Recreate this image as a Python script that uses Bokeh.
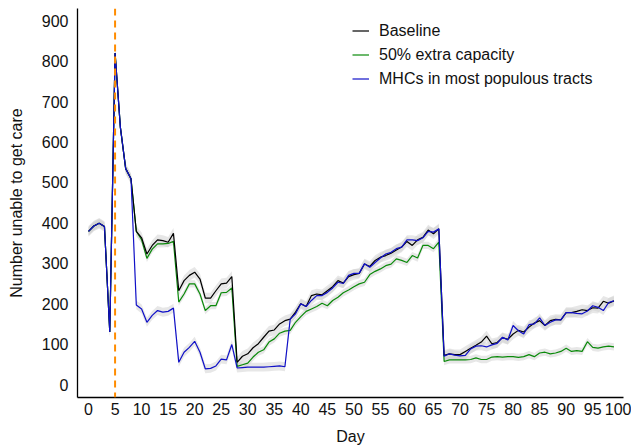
import numpy as np
from bokeh.plotting import figure
from bokeh.models import Span, FixedTicker, Range1d, Legend, LegendItem
from bokeh.embed import file_html
from bokeh.resources import INLINE

days = list(range(0, 100))

baseline = [379, 392, 399, 391, 130, 820, 636, 534, 509,
            379, 363, 323, 344, 358, 356, 352, 374,
            232, 257, 270, 278, 261, 214, 214, 232, 249, 251, 267,
            55, 70, 76, 91, 101, 117, 132, 135, 150, 158, 162, 179, 200, 193,
            220, 224, 222, 232, 242, 257, 251, 267, 272, 275, 298, 292, 307, 315, 319,
            325, 333, 340, 354, 344, 358, 364, 382, 373, 385,
            72, 76, 74, 74, 82, 90, 97, 105, 120, 101, 104, 116, 112, 125, 134,
            130, 142, 152, 158, 146, 158, 161, 160, 178, 178, 181, 185, 183, 190,
            189, 206, 201, 207]

extra_capacity = [379, 392, 399, 391, 130, 820, 636, 534, 509,
                  379, 358, 312, 335, 348, 348, 349, 354,
                  204, 224, 249, 249, 224, 183, 195, 195, 227, 228, 239,
                  45, 49, 53, 68, 80, 86, 105, 113, 127, 132, 134, 154, 168, 181,
                  187, 193, 201, 195, 208, 216, 227, 234, 242, 249, 253, 272, 280, 286, 294,
                  298, 311, 307, 302, 319, 313, 344, 344, 336, 352,
                  57, 61, 61, 61, 61, 62, 66, 62, 62, 68, 69, 68, 69, 69, 67,
                  69, 74, 69, 78, 80, 76, 78, 82, 90, 82, 84, 82, 106, 92,
                  90, 93, 95, 93]

mhcs = [379, 392, 399, 391, 130, 820, 636, 534, 509,
        197, 187, 154, 171, 183, 179, 181, 189,
        55, 80, 92, 107, 80, 39, 40, 46, 63, 61, 99,
        41, 42, 43, 43, 43, 43, 44, 45, 46, 44,
        162, 175, 200, 193,
        208, 220, 220, 228, 239, 253, 250, 270, 275, 275, 299, 290, 302, 313, 323,
        327, 336, 340, 358, 358, 356, 363, 379, 377, 385,
        70, 76, 73, 71, 72, 88, 95, 96, 93, 98, 102, 117, 110, 146, 133,
        125, 148, 150, 165, 146, 154, 160, 160, 178, 178, 176, 175, 182, 195,
        191, 183, 203, 207]

series_names = ["Baseline", "50% extra capacity", "MHCs in most populous tracts"]
ci_halfwidth = [13, 9, 11]
intervention_day = 5
x_ticks = list(range(0, 101, 5))
y_ticks = list(range(0, 901, 100))

FONT = "Liberation Sans"

p = figure(width=631, height=448, output_backend="svg", toolbar_location=None,
           x_range=Range1d(-2.08, 100.8), y_range=Range1d(-32, 930),
           min_border_left=77, min_border_right=8, min_border_top=8, min_border_bottom=51)

p.outline_line_color = None
p.xgrid.visible = False
p.ygrid.visible = False
p.background_fill_color = "white"

colors = ["#000000", "#0a8a0a", "#1010c8"]
data = [baseline, extra_capacity, mhcs]

# confidence bands
for vals, hw in zip(data, ci_halfwidth):
    v = np.array(vals, dtype=float)
    p.varea(x=days, y1=v - hw, y2=v + hw, fill_color="#cfcfcf", fill_alpha=0.5)

span = Span(location=intervention_day, dimension="height", line_color="#ff8c00",
            line_dash="7 5", line_width=2)
p.add_layout(span)

renderers = []
for vals, c in zip([extra_capacity, baseline, mhcs], [colors[1], colors[0], colors[2]]):
    r = p.line(x=days, y=vals, line_color=c, line_width=1.2)
    renderers.append(r)
r_green, r_black, r_blue = renderers

legend = Legend(items=[LegendItem(label=series_names[0], renderers=[r_black]),
                       LegendItem(label=series_names[1], renderers=[r_green]),
                       LegendItem(label=series_names[2], renderers=[r_blue])],
                location=(275, 308))
legend.border_line_color = None
legend.background_fill_alpha = 0
legend.padding = 0
legend.margin = 0
legend.spacing = 3
legend.glyph_width = 17
legend.glyph_height = 21
legend.label_height = 21
legend.label_standoff = 10
legend.label_text_font = FONT
legend.label_text_font_size = "16px"
legend.label_text_color = "#111111"
p.add_layout(legend)

p.xaxis.ticker = FixedTicker(ticks=x_ticks)
p.yaxis.ticker = FixedTicker(ticks=y_ticks)
for ax in [p.xaxis[0], p.yaxis[0]]:
    ax.major_tick_line_color = None
    ax.minor_tick_line_color = None
    ax.major_tick_out = 0
    ax.major_tick_in = 0
    ax.axis_line_color = "black"
    ax.axis_line_width = 1.3
    ax.major_label_text_font = FONT
    ax.major_label_text_font_size = "16px"
    ax.major_label_text_color = "#111111"
    ax.axis_label_text_font = FONT
    ax.axis_label_text_font_size = "16px"
    ax.axis_label_text_font_style = "normal"
    ax.axis_label_text_color = "#111111"

p.xaxis.axis_label = "Day"
p.yaxis.axis_label = "Number unable to get care"
p.xaxis.major_label_standoff = 5
p.yaxis.major_label_standoff = 9
p.xaxis.axis_label_standoff = 10
p.yaxis.axis_label_standoff = 14

open("out.html", "w").write(file_html(p, INLINE))
